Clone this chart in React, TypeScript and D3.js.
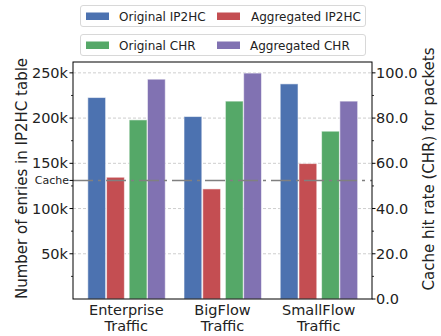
import React from 'react';
import * as d3 from 'd3';

// traffic traces on the x axis (two-line labels)
const categories = [
  ['Enterprise', 'Traffic'],
  ['BigFlow', 'Traffic'],
  ['SmallFlow', 'Traffic'],
];

// left axis: entries in IP2HC table
const originalIP2HC = [222700, 201700, 237800];
const aggregatedIP2HC = [134600, 121700, 149700];

// right axis: cache hit rate (%)
const originalCHR = [79.2, 87.5, 74.2];
const aggregatedCHR = [97.2, 99.9, 87.5];

const cacheSize = 131072;

const leftTicks = [50000, 100000, 150000, 200000, 250000];
const leftMinor = [25000, 75000, 125000, 175000, 225000];
const rightTicks = [0, 20, 40, 60, 80, 100];
const rightMinor = [10, 30, 50, 70, 90];

const W = 441;
const H = 336;
const left = 73;
const right = 372;
const top = 62;
const bottom = 299;
const font = 'DejaVu Sans, sans-serif';

const colors = {
  blue: '#4C72B0',
  red: '#C44E52',
  green: '#55A868',
  purple: '#8172B2',
};

const App: React.FC = () => {
  const x = d3.scaleLinear().domain([-0.554, 2.554]).range([left, right]);
  const yL = d3.scaleLinear().domain([0, 262000]).range([bottom, top]);
  const yR = d3.scaleLinear().domain([0, 104.8]).range([bottom, top]);

  const bw = 0.185;
  const series = [
    { name: 'Original IP2HC', values: originalIP2HC, y: yL, color: colors.blue, offset: -0.4 },
    { name: 'Aggregated IP2HC', values: aggregatedIP2HC, y: yL, color: colors.red, offset: -0.205 },
    { name: 'Original CHR', values: originalCHR, y: yR, color: colors.green, offset: 0.03 },
    { name: 'Aggregated CHR', values: aggregatedCHR, y: yR, color: colors.purple, offset: 0.22 },
  ];

  const fmtK = (v: number) => `${v / 1000}k`;

  return (
    <svg width={W} height={H} style={{ position: 'absolute', left: 0, top: 0, background: '#fff' }}
      fontFamily={font}>
      {/* grid */}
      {leftTicks.map(t => (
        <line key={'g' + t} x1={left} x2={right} y1={yL(t)} y2={yL(t)}
          stroke="#c8c8c8" strokeWidth={0.9} strokeDasharray="3,2" />
      ))}

      {/* bars */}
      {series.map(s => s.values.map((v, i) => {
        const x0 = x(i + s.offset);
        const x1 = x(i + s.offset + bw);
        return (
          <rect key={s.name + i} x={x0} y={s.y(v)} width={x1 - x0} height={bottom - s.y(v)}
            fill={s.color} stroke="#ffffff" strokeOpacity={0.55} strokeWidth={1} />
        );
      }))}

      {/* cache line */}
      <line x1={left} x2={right} y1={yL(cacheSize)} y2={yL(cacheSize)}
        stroke="#808080" strokeWidth={1.6} strokeDasharray="20,5,3,5" />

      {/* frame */}
      <rect x={left} y={top} width={right - left} height={bottom - top} fill="none" stroke="#000" strokeWidth={1} />

      {/* left axis */}
      {leftTicks.map(t => (
        <g key={'l' + t}>
          <line x1={left - 3.5} x2={left} y1={yL(t)} y2={yL(t)} stroke="#000" />
          <text x={left - 5} y={yL(t)} dy="0.35em" textAnchor="end" fontSize={14.5} fill="#222">{fmtK(t)}</text>
        </g>
      ))}
      {leftMinor.map(t => (
        <line key={'lm' + t} x1={left - 2} x2={left} y1={yL(t)} y2={yL(t)} stroke="#000" strokeWidth={0.8} />
      ))}
      <line x1={left - 3.5} x2={left} y1={yL(cacheSize)} y2={yL(cacheSize)} stroke="#000" />
      <text x={left - 4} y={yL(cacheSize)} dy="0.35em" textAnchor="end" fontSize={11} fill="#222">Cache</text>

      {/* right axis */}
      {rightTicks.map(t => (
        <g key={'r' + t}>
          <line x1={right} x2={right + 3.5} y1={yR(t)} y2={yR(t)} stroke="#000" />
          <text x={right + 4} y={yR(t)} dy="0.35em" textAnchor="start" fontSize={14.5} fill="#222">{t.toFixed(1)}</text>
        </g>
      ))}
      {rightMinor.map(t => (
        <line key={'rm' + t} x1={right} x2={right + 2} y1={yR(t)} y2={yR(t)} stroke="#000" strokeWidth={0.8} />
      ))}

      {/* x labels */}
      {categories.map((c, i) => (
        <text key={'x' + i} x={x(i)} textAnchor="middle" fontSize={14.5} fill="#222">
          <tspan x={x(i)} y={315}>{c[0]}</tspan>
          <tspan x={x(i)} y={331}>{c[1]}</tspan>
        </text>
      ))}

      {/* axis titles */}
      <text transform={`translate(27,${(top + bottom) / 2 - 2}) rotate(-90)`} textAnchor="middle" fontSize={15} fill="#222">
        Number of enries in IP2HC table
      </text>
      <text transform={`translate(434,169) rotate(-90)`} textAnchor="middle" fontSize={15} fill="#222">
        Cache hit rate (CHR) for packets
      </text>

      {/* legends */}
      {[0, 1].map(row => {
        const y0 = row === 0 ? 5 : 34;
        const items = series.slice(row * 2, row * 2 + 2);
        return (
          <g key={'leg' + row}>
            <rect x={80.5} y={y0 + 0.5} width={285} height={21} rx={2.5} fill="#fff" stroke="#d8d8d8" strokeWidth={1} />
            {items.map((s, j) => {
              const px = j === 0 ? 86 : 217;
              const tx = j === 0 ? 119 : (row === 0 ? 251 : 250);
              return (
                <g key={s.name}>
                  <rect x={px} y={y0 + 7.5} width={23} height={7.5} fill={s.color} />
                  <text x={tx} y={y0 + 15.5} fontSize={12} fill="#222">{s.name}</text>
                </g>
              );
            })}
          </g>
        );
      })}
    </svg>
  );
};

export default App;
